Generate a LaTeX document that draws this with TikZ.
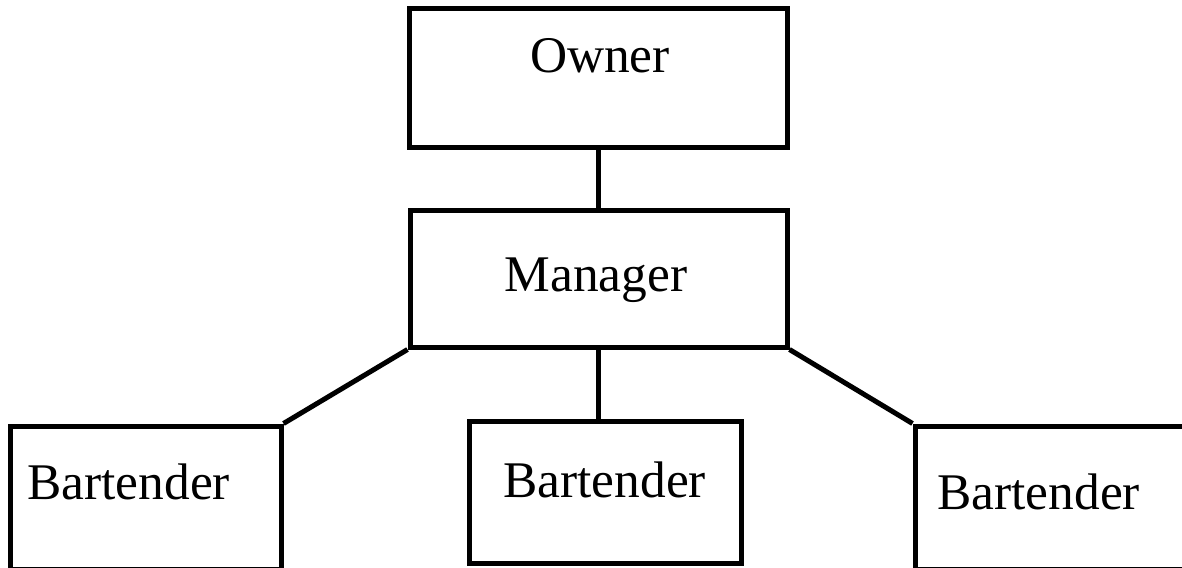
\documentclass[tikz,border=0pt]{standalone}
\usepackage{fontspec}
\setmainfont{Liberation Serif}
\begin{document}
\begin{tikzpicture}[x=0.5pt,y=-0.5pt,
  box/.style={draw=black, line width=2.5pt, rectangle, inner sep=0pt, fill=white},
  conn/.style={draw=black, line width=2.5pt},
  lbl/.style={font=\fontsize{25.7}{30}\selectfont, inner sep=0pt}]
\useasboundingbox[fill=white] (0,0) rectangle (1182,567);
\begin{scope}
\clip (0,0) rectangle (1182,567);
\node[box, minimum width=189pt, minimum height=69pt] (owner) at (598,78) {};
\node[box, minimum width=188.5pt, minimum height=68.5pt] (manager) at (598.5,278.5) {};
\node[box, minimum width=136pt, minimum height=71pt] (midb) at (605,492) {};
\node[box, minimum width=135.5pt, minimum height=71.5pt] (leftb) at (145.5,497.5) {};
\node[box, minimum width=137.5pt, minimum height=71.5pt] (rightb) at (1052.5,497.5) {};
\draw[conn] (owner.south) -- (owner.south |- manager.north);
\draw[conn] (manager.south) -- (manager.south |- midb.north);
\draw[conn] (manager.south west) -- (leftb.north east);
\draw[conn] (manager.south east) -- (rightb.north west);
\end{scope}
\node[lbl, anchor=base] (towner) at (600,73) {Owner};
\node[lbl, anchor=base] (tmanager) at (596,291) {Manager};
\node[lbl, anchor=base west] (tleft) at (27,499) {Bartender};
\node[lbl, anchor=base west] (tmid) at (503,497) {Bartender};
\node[lbl, anchor=base west] (tright) at (937,509) {Bartender};
\end{tikzpicture}
\end{document}
